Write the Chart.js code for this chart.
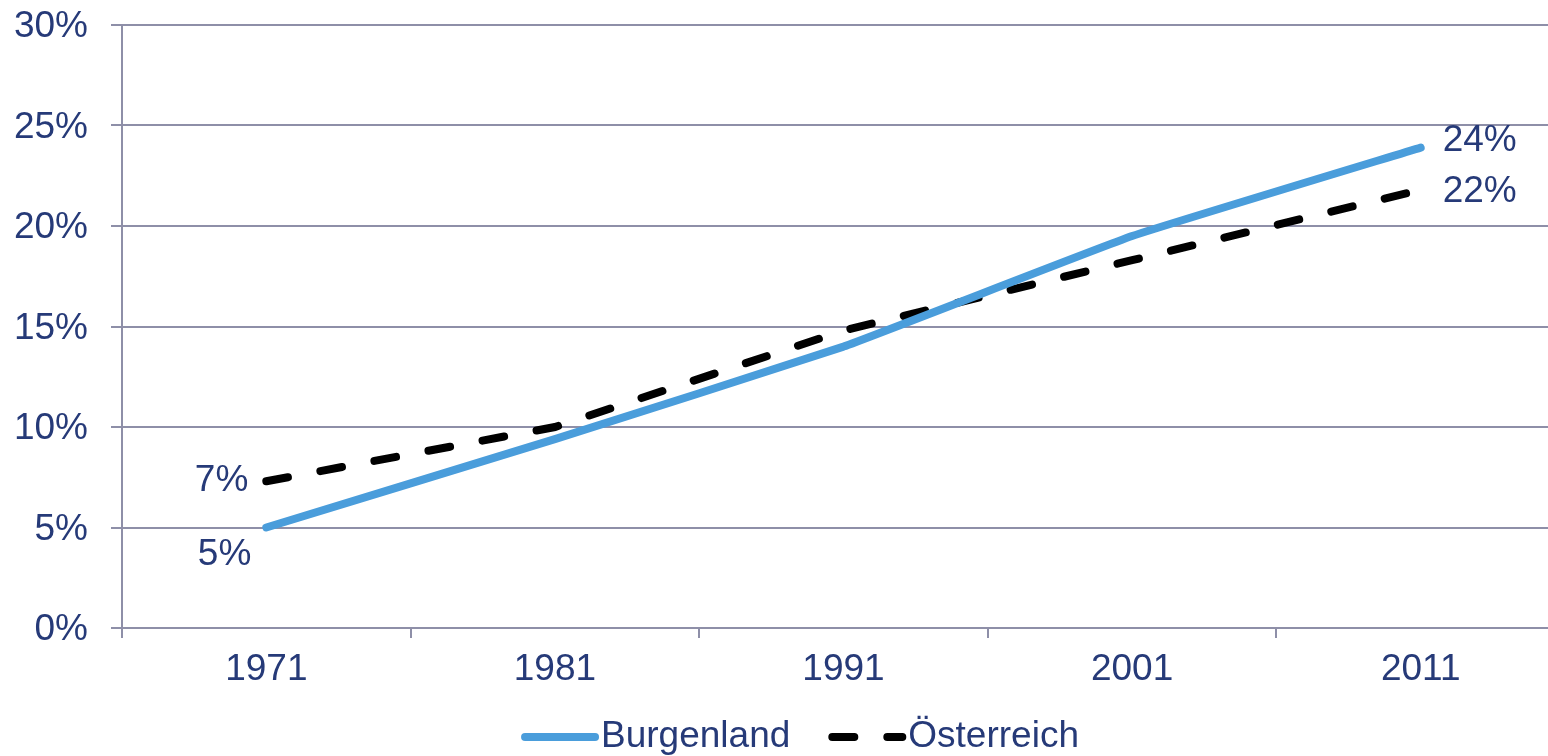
<!DOCTYPE html>
<html>
<head>
<meta charset="utf-8">
<script src="https://cdn.jsdelivr.net/npm/chart.js@4"></script>
<style>
  body { margin: 0; overflow: hidden; background: #fff; }
  canvas { display: block; }
</style>
</head>
<body>
<canvas id="chart" width="1594" height="756"></canvas>
<script>
// Data
const years = ["1971", "1981", "1991", "2001", "2011"];
const burgenland = [5.0, 9.4, 14.0, 19.5, 23.9];
const oesterreich = [7.3, 10.0, 14.8, 18.3, 21.8];
const yTicks = [0, 5, 10, 15, 20, 25, 30];

const navy = "#263a78";
const gridColor = "#8e8fa8";
const fontFamily = "Liberation Sans, Arial, sans-serif";
const font = { family: fontFamily, size: 37 };

// labels at the first and last point of each line
const endLabels = {
  id: "endLabels",
  afterDatasetsDraw(chart) {
    const ctx = chart.ctx;
    ctx.save();
    ctx.font = "37px " + fontFamily;
    ctx.fillStyle = navy;
    ctx.textBaseline = "middle";
    chart.data.datasets.forEach((ds, i) => {
      const meta = chart.getDatasetMeta(i);
      const first = meta.data[0];
      const last = meta.data[meta.data.length - 1];
      const v0 = Math.round(ds.data[0]) + "%";
      const v1 = Math.round(ds.data[ds.data.length - 1]) + "%";
      ctx.textAlign = "right";
      if (i === 0) ctx.fillText(v0, first.x - 15, first.y + 27);
      else ctx.fillText(v0, first.x - 18, first.y);
      ctx.textAlign = "left";
      ctx.fillText(v1, last.x + 22, last.y + (i === 0 ? -7 : 2));
    });
    ctx.restore();
  }
};

// legend drawn below the axis, line sample + name for each series
const bottomLegend = {
  id: "bottomLegend",
  afterDraw(chart) {
    const ctx = chart.ctx;
    const sample = 78, gap = 2, between = 38;
    const cy = 737, cx = 800;
    ctx.save();
    ctx.font = "37px " + fontFamily;
    const items = chart.data.datasets.map(ds => ({ ds, w: sample + gap + ctx.measureText(ds.label).width }));
    const total = items.reduce((s, it) => s + it.w, 0) + between * (items.length - 1);
    let x = cx - total / 2;
    items.forEach(it => {
      const ds = it.ds;
      ctx.strokeStyle = ds.borderColor;
      ctx.lineWidth = ds.borderWidth;
      ctx.lineCap = "round";
      ctx.setLineDash(ds.borderDash || []);
      ctx.beginPath();
      ctx.moveTo(x + 4, cy);
      ctx.lineTo(x + sample - 4, cy);
      ctx.stroke();
      ctx.setLineDash([]);
      ctx.fillStyle = navy;
      ctx.textAlign = "left";
      ctx.textBaseline = "middle";
      ctx.fillText(ds.label, x + sample + gap, cy);
      x += it.w + between;
    });
    ctx.restore();
  }
};

new Chart(document.getElementById("chart"), {
  type: "line",
  data: {
    labels: years,
    datasets: [
      {
        label: "Burgenland",
        data: burgenland,
        borderColor: "#4a9ddb",
        backgroundColor: "#4a9ddb",
        borderWidth: 8,
        borderCapStyle: "round",
        pointRadius: 0,
        tension: 0.1,
        fill: false
      },
      {
        label: "Österreich",
        data: oesterreich,
        borderColor: "#000000",
        backgroundColor: "#000000",
        borderWidth: 8,
        borderDash: [22, 33],
        borderCapStyle: "round",
        pointRadius: 0,
        tension: 0,
        fill: false
      }
    ]
  },
  options: {
    responsive: false,
    animation: false,
    layout: { padding: { top: 25, right: 29, left: 0, bottom: 60 } },
    plugins: {
      tooltip: { enabled: false },
      legend: { display: false }
    },
    scales: {
      x: {
        offset: true,
        afterFit(scale) { scale.height = 68; },
        grid: {
          offset: true,
          drawOnChartArea: false,
          color: gridColor,
          lineWidth: 2,
          tickLength: 10
        },
        border: { color: gridColor, width: 2 },
        ticks: { color: navy, font: font, padding: 10 }
      },
      y: {
        min: 0,
        max: 30,
        afterBuildTicks(scale) {
          scale.ticks = yTicks.map(v => ({ value: v }));
        },
        afterFit(scale) {
          scale.width = 122;
          scale.paddingTop = 0;
          scale.paddingBottom = 0;
        },
        grid: { color: gridColor, lineWidth: 2, tickLength: 11 },
        border: { color: gridColor, width: 2 },
        ticks: {
          color: navy,
          font: font,
          padding: 23,
          labelOffset: 2,
          callback: v => v + "%"
        }
      }
    }
  },
  plugins: [endLabels, bottomLegend]
});
</script>
</body>
</html>
